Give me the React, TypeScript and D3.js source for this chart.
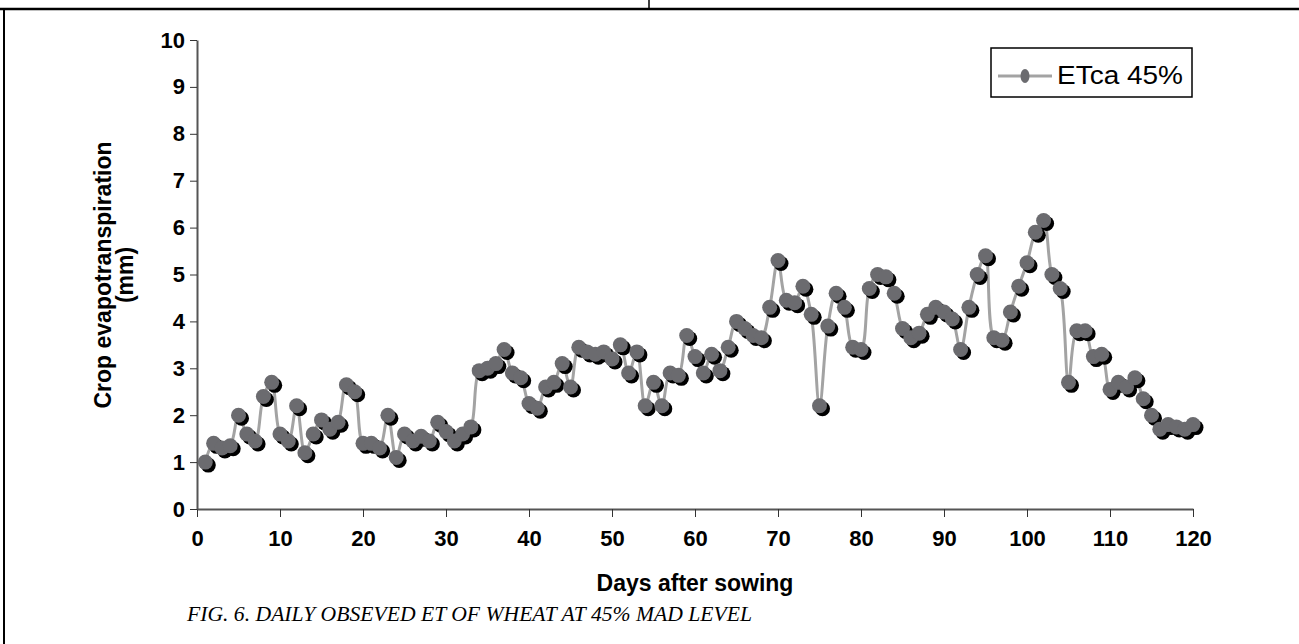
import React, { useEffect, useRef } from 'react';
import * as d3 from 'd3';

// daily observed ET (mm), day 1 .. 120
const days = d3.range(1, 121);
const etca45 = [
  1.0, 1.4, 1.3, 1.35, 2.0, 1.6, 1.45, 2.4, 2.7, 1.6,
  1.45, 2.2, 1.2, 1.6, 1.9, 1.7, 1.85, 2.65, 2.5, 1.4,
  1.4, 1.3, 2.0, 1.1, 1.6, 1.45, 1.55, 1.45, 1.85, 1.65,
  1.45, 1.6, 1.75, 2.95, 3.0, 3.1, 3.4, 2.9, 2.8, 2.25,
  2.15, 2.6, 2.7, 3.1, 2.6, 3.45, 3.35, 3.3, 3.35, 3.2,
  3.5, 2.9, 3.35, 2.2, 2.7, 2.2, 2.9, 2.85, 3.7, 3.25,
  2.9, 3.3, 2.95, 3.45, 4.0, 3.85, 3.7, 3.65, 4.3, 5.3,
  4.45, 4.4, 4.75, 4.15, 2.2, 3.9, 4.6, 4.3, 3.45, 3.4,
  4.7, 5.0, 4.95, 4.6, 3.85, 3.65, 3.75, 4.15, 4.3, 4.2,
  4.05, 3.4, 4.3, 5.0, 5.4, 3.65, 3.6, 4.2, 4.75, 5.25,
  5.9, 6.15, 5.0, 4.7, 2.7, 3.8, 3.8, 3.25, 3.3, 2.55,
  2.7, 2.6, 2.8, 2.35, 2.0, 1.7, 1.8, 1.75, 1.7, 1.8,
];
const xTicks = d3.range(0, 121, 10);
const yTicks = d3.range(0, 11, 1);
const seriesName = 'ETca 45%';
const xTitle = 'Days after sowing';
const yTitle = ['Crop evapotranspiration', '(mm)'];
const caption = 'FIG. 6. DAILY OBSEVED ET OF WHEAT AT 45% MAD LEVEL';

const App = () => {
  const chartRef = useRef(null);

  useEffect(() => {
    d3.select(chartRef.current).selectAll('*').remove();

    const width = 1299;
    const height = 644;
    const marginLeft = 197;
    const marginRight = 106;
    const marginTop = 40;
    const marginBottom = 135;
    const sans = '"Liberation Sans", Arial, sans-serif';

    const data = days.map((d, i) => ({ day: d, v: etca45[i] }));

    const x = d3.scaleLinear().domain([0, 120]).range([marginLeft, width - marginRight]);
    const y = d3.scaleLinear().domain([0, 10]).range([height - marginBottom, marginTop]);

    const svg = d3.select(chartRef.current)
      .append('svg')
      .attr('width', width)
      .attr('height', height)
      .attr('viewBox', [0, 0, width, height])
      .style('position', 'absolute')
      .style('left', 0)
      .style('top', 0)
      .style('background', '#fff');

    // page frame
    svg.append('line').attr('x1', 0).attr('x2', width).attr('y1', 9).attr('y2', 9)
      .attr('stroke', '#000').attr('stroke-width', 2.5);
    svg.append('line').attr('x1', 4).attr('x2', 4).attr('y1', 9).attr('y2', height)
      .attr('stroke', '#000').attr('stroke-width', 2);
    svg.append('line').attr('x1', 649).attr('x2', 649).attr('y1', 0).attr('y2', 9)
      .attr('stroke', '#000').attr('stroke-width', 1.5);

    // axes
    const xAxis = svg.append('g')
      .attr('transform', `translate(0,${y(0)})`)
      .call(d3.axisBottom(x).tickValues(xTicks).tickSize(8).tickSizeOuter(0).tickPadding(13));
    xAxis.select('.domain').attr('stroke', '#555').attr('stroke-width', 2);
    xAxis.selectAll('.tick line').attr('stroke', '#333').attr('stroke-width', 1);
    xAxis.selectAll('.tick text')
      .attr('font-family', sans).attr('font-size', 22).attr('font-weight', 'bold').attr('fill', '#000');

    const yAxis = svg.append('g')
      .attr('transform', `translate(${x(0)},0)`)
      .call(d3.axisLeft(y).tickValues(yTicks).tickSize(7).tickSizeOuter(0).tickPadding(5));
    yAxis.select('.domain').attr('stroke', '#555').attr('stroke-width', 2);
    yAxis.selectAll('.tick line').attr('stroke', '#333').attr('stroke-width', 1);
    yAxis.selectAll('.tick text')
      .attr('font-family', sans).attr('font-size', 22).attr('font-weight', 'bold').attr('fill', '#000');

    // titles
    svg.append('text')
      .attr('x', (x(0) + x(120)) / 2).attr('y', 591)
      .attr('text-anchor', 'middle')
      .attr('font-family', sans).attr('font-size', 23).attr('font-weight', 'bold')
      .text(xTitle);

    const yt = svg.append('text')
      .attr('transform', 'translate(104,275) rotate(-90)')
      .attr('text-anchor', 'middle')
      .attr('font-family', sans).attr('font-size', 23).attr('font-weight', 'bold');
    yt.append('tspan').attr('x', 0).attr('y', 7).text(yTitle[0]);
    yt.append('tspan').attr('x', 0).attr('y', 29).text(yTitle[1]);

    svg.append('text')
      .attr('x', 187).attr('y', 621)
      .attr('textLength', 565).attr('lengthAdjust', 'spacingAndGlyphs')
      .attr('font-family', '"Liberation Serif", "Times New Roman", serif')
      .attr('font-style', 'italic').attr('font-size', 20)
      .text(caption);

    // series line (smoothed like the original)
    const line = d3.line()
      .x(d => x(d.day))
      .y(d => y(d.v))
      .curve(d3.curveCatmullRom.alpha(0.5));

    svg.append('path')
      .datum(data)
      .attr('fill', 'none')
      .attr('stroke', '#a3a3a3')
      .attr('stroke-width', 3)
      .attr('d', line);

    // markers: shadow first, then gray face
    svg.append('g').selectAll('circle').data(data).join('circle')
      .attr('cx', d => x(d.day) + 3).attr('cy', d => y(d.v) + 3).attr('r', 7.5)
      .attr('fill', '#000');
    svg.append('g').selectAll('circle').data(data).join('circle')
      .attr('cx', d => x(d.day)).attr('cy', d => y(d.v)).attr('r', 7.5)
      .attr('fill', '#6b6b6f');

    // legend
    const lg = svg.append('g');
    lg.append('rect').attr('x', 991).attr('y', 48).attr('width', 201).attr('height', 49)
      .attr('fill', '#fff').attr('stroke', '#000').attr('stroke-width', 1.5);
    lg.append('line').attr('x1', 998).attr('x2', 1052).attr('y1', 76).attr('y2', 76)
      .attr('stroke', '#a3a3a3').attr('stroke-width', 3);
    lg.append('ellipse').attr('cx', 1025).attr('cy', 76).attr('rx', 4.5).attr('ry', 7)
      .attr('fill', '#6b6b6f');
    lg.append('text').attr('x', 1057).attr('y', 84)
      .attr('textLength', 126).attr('lengthAdjust', 'spacingAndGlyphs')
      .attr('font-family', sans).attr('font-size', 25)
      .text(seriesName);
  }, []);

  return <div ref={chartRef}></div>;
};

export default App;
